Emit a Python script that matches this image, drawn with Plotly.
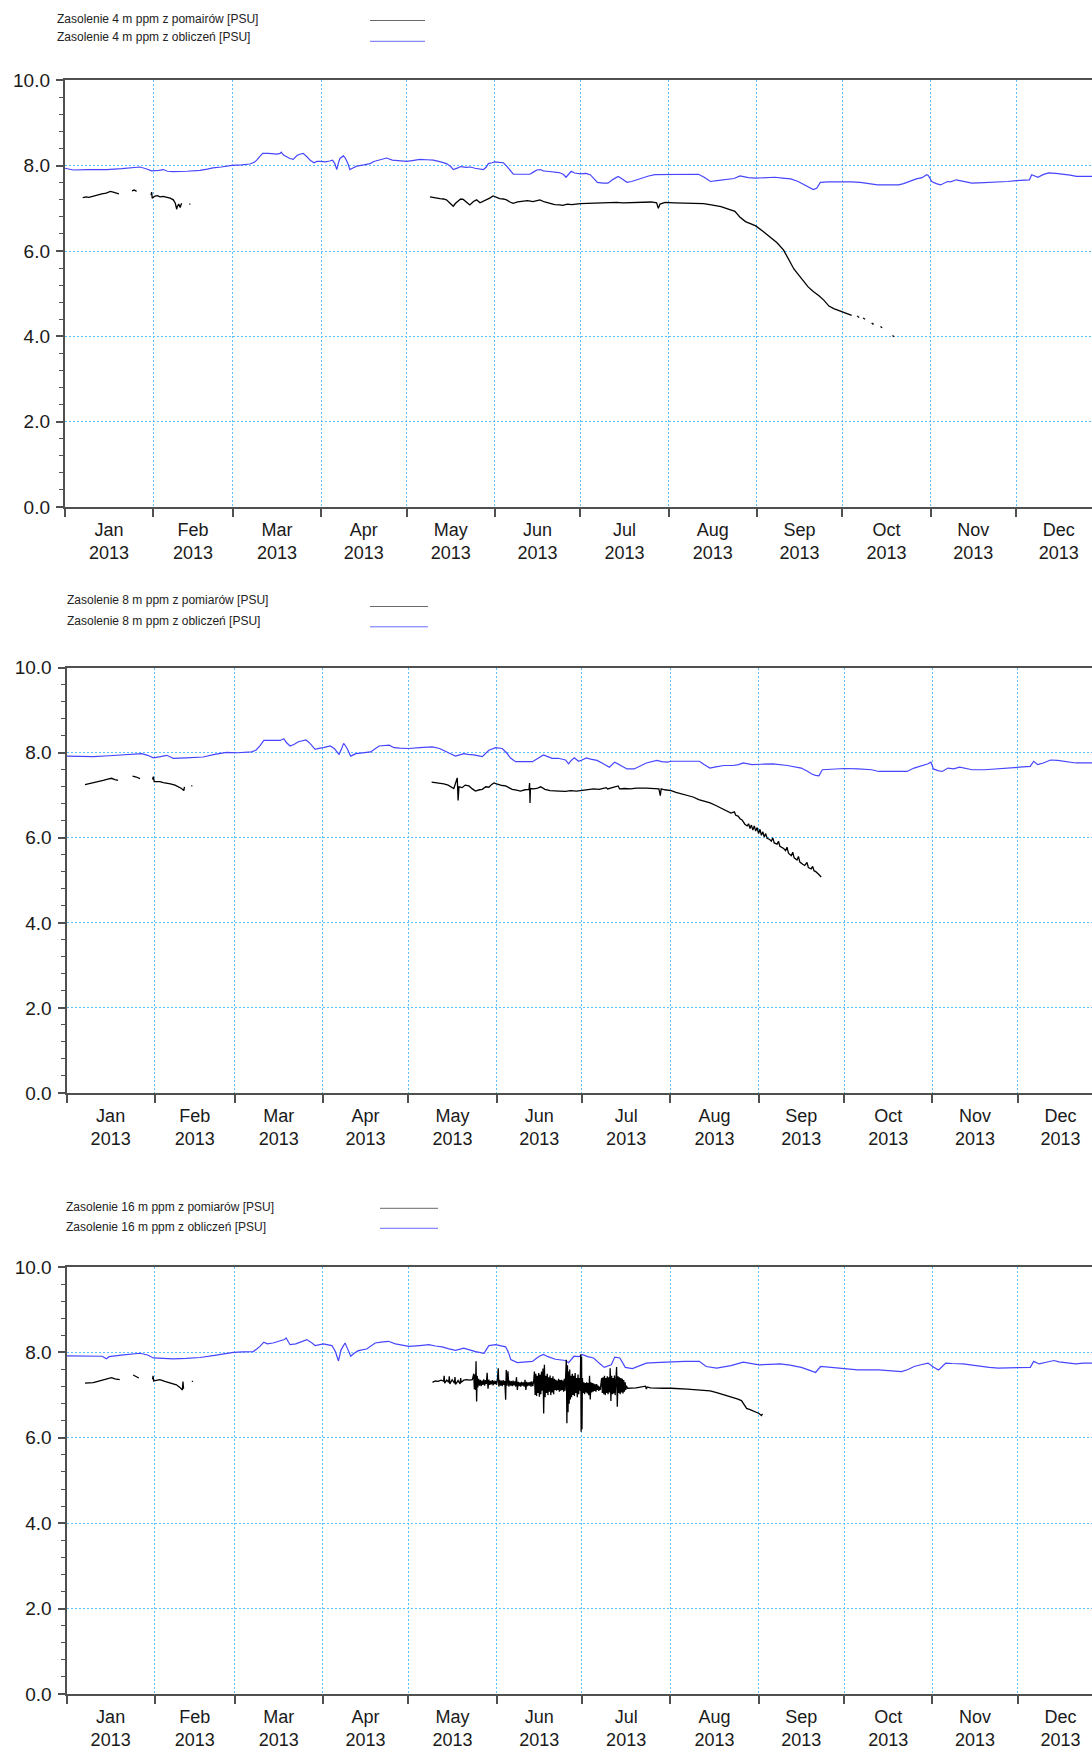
import pandas as pd
import plotly.graph_objects as go

BASE = pd.Timestamp("2013-01-01")

# (day of year offset, salinity PSU); (None, None) breaks the line
meas_4m = [
    (6.3, 7.25), (7.5, 7.27), (8.5, 7.26), (10, 7.29), (11.5, 7.31), (13, 7.34), (14.5, 7.36),
    (16, 7.40), (17, 7.38), (17.8, 7.37), (19, 7.34), (None, None),
    (23.6, 7.41), (24.4, 7.43), (25.2, 7.40), (None, None),
    (30.3, 7.31), (30.5, 7.38), (30.7, 7.24), (31.7, 7.29), (32.5, 7.30), (33.5, 7.27), (34.5, 7.28),
    (35.8, 7.26), (37, 7.24), (38.1, 7.20), (38.8, 7.12), (39.3, 6.98), (39.5, 7.04), (40, 7.10),
    (40.5, 7.02), (41, 7.12), (None, None), (43.7, 7.10), (44.1, 7.10), (None, None),
    (128.2, 7.27), (129.5, 7.25), (131.7, 7.23), (133, 7.22), (134, 7.20), (135, 7.14), (136.4, 7.05),
    (137.2, 7.12), (138.1, 7.16), (139, 7.22), (139.9, 7.21), (141, 7.15), (142.2, 7.08), (143.5, 7.16),
    (144.6, 7.20), (145.8, 7.13), (146.9, 7.16), (148, 7.20), (149.2, 7.24), (150.4, 7.29), (151.5, 7.26),
    (152.7, 7.23), (154, 7.22), (155.1, 7.20), (156.3, 7.15), (157.4, 7.12), (159, 7.15), (160.9, 7.16),
    (162.5, 7.18), (164.4, 7.16), (166.8, 7.20), (168.5, 7.15), (170.3, 7.12), (172, 7.09), (173.8, 7.08),
    (174.8, 7.07), (176.5, 7.10), (178, 7.09), (181, 7.11), (185, 7.12), (189, 7.12), (193.7, 7.14),
    (196, 7.13), (200, 7.14), (203, 7.15), (206, 7.15), (207.8, 7.13), (208.4, 7.00), (209, 7.10),
    (210.8, 7.14), (214, 7.13), (218.2, 7.12), (221, 7.11), (224.3, 7.11), (227, 7.08), (230.4, 7.04),
    (233, 6.98), (235.3, 6.93), (237, 6.80), (239, 6.69), (240.5, 6.65), (242.6, 6.59), (245, 6.47),
    (247.5, 6.34), (250, 6.20), (252.4, 6.02), (253.5, 5.88), (254.9, 5.71), (256, 5.58), (257.3, 5.47),
    (259, 5.32), (261, 5.16), (262.8, 5.05), (264.7, 4.96), (266.5, 4.85), (268.3, 4.71), (270, 4.65),
    (272, 4.60), (274, 4.55), (276.3, 4.49), (None, None),
    (278.2, 4.48), (278.9, 4.44), (None, None), (280.3, 4.43), (281, 4.40), (None, None),
    (283.3, 4.31), (284, 4.28), (None, None), (286.4, 4.23), (287, 4.20), (None, None),
    (290.6, 4.02), (291.2, 3.99),
]

calc_4m = [
    (0, 7.94), (3, 7.90), (8, 7.91), (14.7, 7.91), (20, 7.93), (26.4, 7.97), (28.5, 7.93), (30.5, 7.88),
    (33, 7.89), (34.6, 7.91), (36, 7.87), (38, 7.86), (43, 7.87), (47.5, 7.89), (50, 7.92), (52, 7.95),
    (55, 7.97), (58.6, 8.01), (62, 8.02), (65, 8.04), (66.5, 8.08), (67.4, 8.13), (68.5, 8.22), (69.5, 8.29),
    (71.5, 8.29), (73.2, 8.28), (74.5, 8.27), (75.6, 8.29), (76, 8.32), (76.8, 8.25), (77.9, 8.20),
    (79, 8.17), (80.2, 8.15), (81.5, 8.24), (82.5, 8.27), (83.7, 8.29), (85, 8.21), (86.3, 8.12),
    (87.5, 8.07), (88.5, 8.10), (89.6, 8.10), (91.5, 8.09), (93, 8.11), (94, 8.13), (94.8, 8.05),
    (95.5, 7.91), (96, 8.05), (96.6, 8.17), (97.8, 8.23), (98.5, 8.18), (99.4, 8.05), (100.1, 7.91),
    (101, 7.94), (102.5, 7.99), (105, 8.02), (107.2, 8.05), (108.5, 8.10), (111, 8.14), (113, 8.18),
    (115, 8.13), (118, 8.11), (120, 8.10), (122, 8.12), (124.7, 8.15), (127, 8.14), (129.4, 8.13),
    (132, 8.09), (134, 8.05), (135.5, 7.98), (136.4, 7.91), (138, 7.95), (139, 7.98), (141, 7.96),
    (142.5, 7.97), (144, 7.94), (147, 7.91), (148, 7.97), (148.7, 8.05), (150, 8.07), (151, 8.09),
    (152.5, 8.08), (154, 8.07), (155.3, 7.98), (156.3, 7.90), (157.5, 7.80), (160, 7.80), (163.3, 7.80),
    (164.5, 7.85), (165.7, 7.90), (167, 7.91), (168, 7.88), (169.2, 7.87), (171, 7.85), (173.5, 7.84),
    (175, 7.80), (176, 7.73), (177.8, 7.87), (179, 7.83), (181, 7.81), (183, 7.82), (184.5, 7.79),
    (186, 7.68), (187, 7.61), (189, 7.59), (190.7, 7.59), (192.5, 7.68), (194.3, 7.75), (195.5, 7.70),
    (197.4, 7.61), (199, 7.63), (202.3, 7.71), (205, 7.76), (207.2, 7.79), (212, 7.79), (217, 7.79),
    (222.5, 7.80), (224.5, 7.73), (226.7, 7.63), (229, 7.65), (232.9, 7.69), (235, 7.70), (237.1, 7.76),
    (240, 7.72), (242.6, 7.71), (246, 7.72), (249.4, 7.73), (252, 7.71), (254.9, 7.69), (257.5, 7.63),
    (259.8, 7.55), (261.5, 7.48), (262.8, 7.44), (264, 7.47), (265.3, 7.61), (268, 7.62), (273.2, 7.63),
    (276, 7.62), (279.3, 7.61), (282, 7.58), (285.4, 7.55), (289, 7.55), (292.8, 7.55), (294.5, 7.58),
    (296.5, 7.63), (299, 7.69), (301, 7.72), (302.6, 7.79), (303.2, 7.77), (304.4, 7.63), (306, 7.58),
    (307.5, 7.55), (309.9, 7.63), (311, 7.62), (313, 7.67), (315, 7.64), (318.5, 7.59), (321, 7.60),
    (324, 7.61), (328.3, 7.61), (331, 7.63), (334, 7.65), (336, 7.66), (338.7, 7.67), (339.5, 7.79),
    (340.5, 7.76), (341.7, 7.73), (343.5, 7.79), (345.4, 7.83), (348, 7.82), (350, 7.81), (351.5, 7.80),
    (353, 7.78), (355.2, 7.75), (358, 7.75), (361, 7.75),
]

meas_8m = [
    (6.5, 7.25), (8, 7.27), (9.4, 7.29), (11, 7.31), (12.9, 7.35), (14.5, 7.38), (15.8, 7.40),
    (17, 7.37), (18.1, 7.35), (None, None),
    (23.2, 7.45), (24.5, 7.43), (25.8, 7.39), (None, None),
    (30.2, 7.37), (30.5, 7.44), (30.8, 7.32), (32.8, 7.32), (34, 7.30), (35.2, 7.29), (36.5, 7.27),
    (38.1, 7.24), (39.5, 7.19), (40.4, 7.16), (41.2, 7.11), (41.4, 7.20), (None, None),
    (43.8, 7.22), (44.2, 7.22), (None, None),
    (128.2, 7.31), (129.5, 7.30), (131.1, 7.29), (132.5, 7.27), (134, 7.24), (135, 7.20), (136, 7.16),
    (137.2, 7.41), (137.5, 6.88), (137.8, 7.20), (138.9, 7.18), (140, 7.24), (141.3, 7.22), (142.5, 7.15),
    (143.6, 7.10), (145, 7.13), (146, 7.14), (147.2, 7.20), (148.3, 7.19), (149.2, 7.25), (150.1, 7.29),
    (151, 7.27), (151.8, 7.25), (153, 7.23), (154.2, 7.22), (155.3, 7.18), (156.5, 7.14), (158, 7.12),
    (159.4, 7.10), (161, 7.13), (162.4, 7.14), (162.6, 7.29), (162.75, 6.82), (162.9, 7.16), (164, 7.15),
    (165.1, 7.16), (166.5, 7.20), (168, 7.14), (169.8, 7.11), (171.5, 7.11), (173, 7.10), (175.2, 7.09),
    (177, 7.11), (179.1, 7.10), (181, 7.12), (183, 7.13), (185.1, 7.15), (187, 7.14), (189.5, 7.18),
    (190, 7.15), (192, 7.19), (193.7, 7.22), (194.2, 7.15), (196, 7.16), (198, 7.15), (200, 7.17),
    (203.6, 7.17), (206, 7.16), (208, 7.15), (208.5, 6.99), (208.8, 7.15), (210, 7.13), (212.3, 7.11),
    (214, 7.07), (216, 7.03), (218.5, 6.99), (220, 6.96), (222, 6.90), (224.6, 6.85), (226, 6.82),
    (228, 6.76), (230.8, 6.67), (232, 6.63), (233.3, 6.58), (234.5, 6.61), (235, 6.53), (235.8, 6.51),
    (236.5, 6.45), (237.2, 6.42), (238.2, 6.32), (239, 6.28), (239.5, 6.33), (240, 6.22), (240.5, 6.30),
    (241, 6.18), (241.5, 6.28), (242, 6.16), (242.5, 6.24), (243, 6.10), (243.5, 6.20), (244, 6.06),
    (244.5, 6.14), (245, 6.02), (245.5, 6.10), (246, 5.99), (246.9, 5.96), (247.5, 5.92), (248, 6.00),
    (248.5, 5.88), (249.5, 5.85), (250, 5.92), (250.5, 5.80), (251.8, 5.75), (252.5, 5.70), (253, 5.78),
    (253.5, 5.64), (254.5, 5.58), (255, 5.66), (255.5, 5.53), (256.5, 5.48), (257, 5.56), (257.5, 5.43),
    (258.5, 5.38), (259.2, 5.35), (260, 5.42), (260.5, 5.30), (261.5, 5.27), (262, 5.33), (262.5, 5.22),
    (263, 5.21), (264, 5.15), (264.8, 5.09), (265, 5.08),
]

calc_8m = [
    (0, 7.92), (5, 7.91), (9.4, 7.91), (15, 7.93), (21.1, 7.96), (24, 7.97), (26.4, 7.98), (28.5, 7.94),
    (30.5, 7.88), (33, 7.91), (35.2, 7.94), (36.5, 7.90), (37.5, 7.87), (42, 7.88), (48, 7.90), (52, 7.96),
    (56.2, 8.01), (60, 8.00), (65, 8.02), (66.5, 8.06), (67.9, 8.16), (69.3, 8.29), (72, 8.29), (75, 8.29),
    (76.3, 8.33), (77.2, 8.24), (78.5, 8.16), (80, 8.20), (81.4, 8.26), (84.1, 8.30), (85.5, 8.22),
    (87.3, 8.08), (89, 8.11), (90.2, 8.12), (92.6, 8.16), (94, 8.10), (95, 8.02), (95.7, 7.96), (96.5, 8.08),
    (97.3, 8.22), (98.3, 8.13), (99.8, 7.92), (101.6, 7.98), (104, 8.00), (106.8, 8.02), (108.5, 8.10),
    (109.8, 8.16), (113.3, 8.18), (115, 8.12), (117, 8.11), (120.2, 8.10), (124, 8.12), (128.4, 8.14),
    (131, 8.10), (133.1, 8.04), (135, 7.97), (136.6, 7.92), (139.5, 7.98), (141, 7.96), (143, 7.95),
    (146, 7.91), (147.2, 7.98), (148.3, 8.06), (150.7, 8.12), (153, 8.10), (154.5, 8.00), (156, 7.87),
    (157.7, 7.79), (160, 7.79), (163.6, 7.79), (165, 7.85), (166.5, 7.92), (167.5, 7.95), (168.5, 7.92),
    (170.5, 7.87), (172.7, 7.87), (175.2, 7.83), (176.3, 7.74), (177.2, 7.82), (178.3, 7.88), (179.8, 7.80),
    (181, 7.83), (182.6, 7.88), (184, 7.85), (186.3, 7.82), (188.5, 7.74), (190.6, 7.66), (192.5, 7.78),
    (193.5, 7.74), (195, 7.70), (196.8, 7.62), (199.3, 7.62), (201.5, 7.70), (203.6, 7.76), (207.3, 7.82),
    (209, 7.79), (211, 7.78), (212.3, 7.80), (217, 7.80), (222.2, 7.80), (224, 7.72), (225.9, 7.64),
    (228, 7.67), (230.8, 7.70), (234, 7.70), (236, 7.72), (237.6, 7.76), (240.7, 7.72), (244, 7.73),
    (248.1, 7.74), (253.1, 7.70), (256, 7.67), (258, 7.64), (260, 7.57), (261.7, 7.50), (263, 7.47),
    (264.2, 7.46), (265.4, 7.60), (269, 7.62), (273.1, 7.63), (278, 7.62), (282.7, 7.60), (285.2, 7.56),
    (290, 7.56), (295.1, 7.56), (297.6, 7.64), (300, 7.69), (302.5, 7.74), (303.5, 7.78), (304.4, 7.62),
    (306, 7.58), (307.5, 7.56), (309.5, 7.64), (311.5, 7.62), (313.6, 7.66), (316, 7.62), (318, 7.60),
    (322.3, 7.60), (327.2, 7.62), (331, 7.64), (334, 7.66), (338.4, 7.68), (339.6, 7.80), (341, 7.72),
    (343, 7.76), (345.5, 7.83), (348, 7.82), (350.7, 7.80), (352.5, 7.78), (354.4, 7.76), (357, 7.76),
    (361, 7.76),
]

meas_16m = [
    (6.5, 7.28), (8, 7.29), (9.4, 7.29), (11, 7.32), (12.9, 7.36), (14.5, 7.39), (15.8, 7.41),
    (17, 7.38), (18.7, 7.36), (None, None),
    (23.4, 7.47), (24.4, 7.43), (25.4, 7.40), (None, None),
    (30.2, 7.37), (30.4, 7.45), (30.6, 7.33), (32.8, 7.36), (34.5, 7.32), (36.3, 7.28), (37.5, 7.26),
    (38.6, 7.24), (39.8, 7.18), (40.7, 7.12), (40.9, 7.32), (41.1, 7.15), (None, None),
    (44.0, 7.32), (44.4, 7.32), (None, None),
    # quiet start of the May record
    (128.5, 7.30), (129.5, 7.33), (130.5, 7.32), (131.5, 7.35), (132.4, 7.33), (132.6, 7.45),
    (132.8, 7.28), (133.5, 7.35), (134.2, 7.30), (134.4, 7.44), (134.6, 7.26), (135.4, 7.36),
    (136.2, 7.28), (136.4, 7.42), (136.6, 7.25), (137.5, 7.34), (138.2, 7.26), (138.4, 7.40),
    (138.6, 7.30), (139.5, 7.35), (140.5, 7.36), (141.5, 7.35), (142.5, 7.36),
    # noisy period, late May to mid July
    (143.0, 7.50), (143.2, 7.14), (143.4, 7.48), (143.6, 7.12), (143.8, 7.79), (144.0, 6.85),
    (144.2, 7.45), (144.4, 7.18), (144.7, 7.38), (145.0, 7.22), (145.3, 7.36), (145.6, 7.21),
    (145.9, 7.34), (146.2, 7.24), (146.5, 7.37), (146.8, 7.22), (147.1, 7.35), (147.4, 7.26),
    (147.7, 7.52), (148.0, 7.15), (148.3, 7.36), (148.6, 7.24), (148.9, 7.33), (149.2, 7.25),
    (149.5, 7.35), (149.8, 7.23), (150.1, 7.34), (150.4, 7.26), (150.7, 7.33), (151.0, 7.24),
    (151.3, 7.35), (151.6, 7.63), (151.8, 7.20), (152.1, 7.36), (152.4, 7.22), (152.7, 7.34),
    (153.0, 7.21), (153.3, 7.35), (153.6, 7.24), (153.9, 7.33), (154.2, 6.89), (154.4, 7.59),
    (154.7, 7.22), (155.0, 7.56), (155.3, 7.20), (155.6, 7.34), (155.9, 7.22), (156.2, 7.33),
    (156.5, 7.21), (156.8, 7.34), (157.1, 7.23), (157.4, 7.32), (157.7, 7.20), (158.0, 7.42),
    (158.3, 7.12), (158.6, 7.31), (158.9, 7.21), (159.2, 7.30), (159.5, 7.20), (159.8, 7.31),
    (160.1, 7.22), (160.4, 7.30), (160.7, 7.20), (161.0, 7.36), (161.3, 7.12), (161.6, 7.31),
    (161.9, 7.21), (162.2, 7.30), (162.5, 7.22), (162.8, 7.31), (163.1, 7.20), (163.4, 7.32),
    (163.7, 7.21), (164.0, 7.30), (164.3, 7.55), (164.55, 7.00), (164.8, 7.50), (165.05, 6.98),
    (165.3, 7.45), (165.55, 7.05), (165.8, 7.52), (166.05, 6.96), (166.3, 7.48), (166.55, 7.02),
    (166.8, 7.55), (167.05, 7.10), (167.3, 7.62), (167.55, 6.57), (167.8, 7.71), (168.05, 6.95),
    (168.3, 7.45), (168.55, 7.05), (168.8, 7.50), (169.05, 7.00), (169.3, 7.42), (169.55, 7.08),
    (169.8, 7.46), (170.05, 7.00), (170.3, 7.40), (170.55, 7.06), (170.8, 7.44), (171.05, 7.02),
    (171.3, 7.38), (171.55, 7.12), (171.8, 7.36), (172.05, 7.10), (172.3, 7.34), (172.55, 7.12),
    (172.8, 7.38), (173.05, 7.08), (173.3, 7.35), (173.55, 7.10), (173.8, 7.36), (174.05, 7.12),
    (174.3, 7.34), (174.55, 7.08), (174.8, 7.38), (175.05, 7.10), (175.3, 7.36), (175.5, 7.83),
    (175.7, 6.34), (175.9, 7.70), (176.1, 6.60), (176.3, 7.55), (176.5, 6.80), (176.7, 7.60),
    (176.9, 6.90), (177.1, 7.45), (177.35, 6.95), (177.6, 7.50), (177.85, 7.00), (178.1, 7.45),
    (178.35, 6.98), (178.6, 7.52), (178.85, 7.05), (179.1, 7.40), (179.35, 6.95), (179.6, 7.48),
    (179.85, 7.02), (180.1, 7.40), (180.35, 7.10), (180.55, 7.95), (180.7, 6.14), (180.85, 7.90),
    (181.0, 6.20), (181.15, 7.40), (181.4, 7.05), (181.65, 7.30), (181.9, 7.02), (182.15, 7.28),
    (182.4, 7.06), (182.65, 7.30), (182.9, 7.04), (183.15, 7.28), (183.4, 7.00), (183.65, 7.45),
    (183.9, 6.90), (184.15, 7.30), (184.4, 7.06), (184.65, 7.28), (184.9, 7.08), (185.15, 7.27),
    (185.4, 7.10), (185.65, 7.25), (185.9, 7.08), (186.15, 7.26), (186.4, 7.12), (186.65, 7.22),
    (186.9, 7.10), (187.15, 7.20), (187.4, 7.12), (187.65, 7.22), (187.9, 7.40), (188.15, 7.05),
    (188.4, 7.42), (188.65, 7.02), (188.9, 7.45), (189.15, 7.00), (189.4, 7.40), (189.65, 7.05),
    (189.9, 7.44), (190.15, 7.02), (190.4, 7.42), (190.65, 7.06), (190.9, 7.63), (191.15, 6.86),
    (191.4, 7.45), (191.65, 7.02), (191.9, 7.40), (192.15, 7.04), (192.4, 7.46), (192.65, 7.00),
    (192.9, 7.42), (193.15, 7.66), (193.4, 6.73), (193.65, 7.44), (193.9, 7.05), (194.15, 7.42),
    (194.4, 7.02), (194.65, 7.40), (194.9, 7.06), (195.15, 7.38), (195.4, 7.04), (195.65, 7.35),
    (195.9, 7.08), (196.15, 7.30), (196.4, 7.12), (196.6, 7.22),
    # settled record and late-summer decline
    (197, 7.16), (200, 7.17), (203.3, 7.21), (203.6, 7.14), (203.9, 7.19), (205, 7.17),
    (209.8, 7.16), (212.3, 7.16), (218, 7.14), (222.2, 7.12), (226, 7.10), (228.3, 7.06),
    (231, 7.01), (233.3, 6.96), (235.5, 6.91), (237, 6.87), (238, 6.78), (238.8, 6.69),
    (240, 6.66), (241.5, 6.62), (243.2, 6.57), (244, 6.52), (244.4, 6.56),
]

calc_16m = [
    (0, 7.92), (5, 7.91), (9.4, 7.91), (12.5, 7.91), (14, 7.85), (15, 7.90), (20, 7.94), (25.8, 7.98),
    (28.5, 7.94), (30.5, 7.87), (34, 7.86), (37.5, 7.85), (42, 7.86), (46.9, 7.88), (52, 7.93),
    (58.6, 8.00), (62, 8.01), (65.6, 8.02), (66.8, 8.08), (67.9, 8.14), (69.3, 8.24), (70.5, 8.20),
    (72.5, 8.22), (75, 8.26), (76.5, 8.30), (77.1, 8.34), (78.5, 8.18), (80.5, 8.20), (82, 8.24),
    (84.4, 8.30), (85.8, 8.24), (87.3, 8.16), (90.2, 8.20), (93.2, 8.16), (94.4, 8.02), (95.5, 7.80),
    (96.4, 8.06), (97.8, 8.22), (98.6, 8.10), (99.8, 7.91), (101, 7.98), (102.5, 8.04), (105.4, 8.08),
    (107, 8.16), (108.4, 8.22), (110.5, 8.24), (113, 8.26), (115.5, 8.20), (118, 8.16), (120.2, 8.14),
    (124, 8.16), (127.2, 8.18), (129.5, 8.15), (131.9, 8.13), (134, 8.09), (136.6, 8.05), (139.5, 8.10),
    (141.5, 8.06), (143.6, 8.02), (146.6, 7.98), (147.5, 8.06), (148.3, 8.16), (150.7, 8.18),
    (154.2, 8.13), (155.2, 8.00), (156, 7.83), (158.3, 7.76), (161, 7.77), (163.6, 7.79), (164.8, 7.85),
    (166, 7.91), (167.5, 7.95), (169, 7.90), (171.7, 7.84), (173.5, 7.83), (175.2, 7.81), (176.3, 7.76),
    (177.3, 7.85), (178.2, 7.91), (179.9, 7.90), (181, 7.95), (183, 7.90), (185.1, 7.87), (187, 7.75),
    (188.8, 7.65), (191.3, 7.71), (192.5, 7.89), (194.3, 7.87), (195.3, 7.75), (196.2, 7.65),
    (198.7, 7.62), (201, 7.68), (203.6, 7.75), (206.5, 7.76), (209.8, 7.77), (212.3, 7.79), (217, 7.79),
    (222.2, 7.79), (224.6, 7.67), (228.3, 7.63), (231, 7.66), (233.3, 7.69), (237.6, 7.77), (240, 7.74),
    (243.2, 7.71), (247, 7.72), (250.6, 7.73), (254, 7.70), (258, 7.65), (261, 7.58), (263, 7.53),
    (264.8, 7.67), (268, 7.65), (271.6, 7.63), (275, 7.60), (277.8, 7.59), (285.2, 7.59), (290, 7.57),
    (293.2, 7.55), (295.5, 7.60), (297.6, 7.67), (300, 7.71), (302.5, 7.75), (304.5, 7.65), (306.2, 7.59),
    (307.5, 7.67), (308.7, 7.75), (311, 7.74), (314.9, 7.73), (318, 7.70), (321, 7.67), (324, 7.65),
    (327.2, 7.63), (331, 7.64), (334, 7.65), (338.4, 7.65), (339.6, 7.79), (341.5, 7.73), (344, 7.77),
    (346.7, 7.81), (348.5, 7.78), (350.7, 7.76), (353, 7.74), (354.4, 7.73), (357, 7.75), (361, 7.75),
]

legend_meas = [
    "Zasolenie 4 m ppm z pomairów [PSU]",
    "Zasolenie 8 m ppm z pomiarów [PSU]",
    "Zasolenie 16 m ppm z pomiarów [PSU]",
]
legend_calc = [
    "Zasolenie 4 m ppm z obliczeń [PSU]",
    "Zasolenie 8 m ppm z obliczeń [PSU]",
    "Zasolenie 16 m ppm z obliczeń [PSU]",
]
y_ticks = [0, 2, 4, 6, 8, 10]

W, H = 1092, 1751
MEAS_COLOR = "#000000"
CALC_COLOR = "#4646ff"
GRID_COLOR = "#5cbfff"
AXIS_COLOR = "#505050"
FONT = "Liberation Sans, Arial, sans-serif"

# panel geometry in pixels: left edge of plot, top, bottom, legend placement
panels = [
    dict(meas=meas_4m, calc=calc_4m, left=64.8, top=80.4, bottom=507.0,
         txt_x=55, txt_y=(19.5, 37.0), line_x=(370, 425), line_y=(20.5, 41.3)),
    dict(meas=meas_8m, calc=calc_8m, left=66.5, top=667.7, bottom=1093.0,
         txt_x=64.5, txt_y=(600.5, 620.5), line_x=(370, 428), line_y=(606.5, 626.8)),
    dict(meas=meas_16m, calc=calc_16m, left=66.5, top=1267.0, bottom=1694.0,
         txt_x=63.7, txt_y=(1207.0, 1226.5), line_x=(380, 438), line_y=(1208.3, 1228.3)),
]
PX_PER_DAY = 2.848


def to_xy(pairs):
    xs = [None if d is None else BASE + pd.Timedelta(days=d) for d, _ in pairs]
    ys = [v for _, v in pairs]
    return xs, ys


fig = go.Figure()
annotations = []
shapes = []

for i, p in enumerate(panels, start=1):
    suffix = "" if i == 1 else str(i)
    xa, ya = "x" + suffix, "y" + suffix

    cx, cy = to_xy(p["calc"])
    fig.add_trace(go.Scatter(x=cx, y=cy, mode="lines", xaxis=xa, yaxis=ya,
                             line=dict(color=CALC_COLOR, width=1.2), showlegend=False,
                             hoverinfo="skip"))
    mx, my = to_xy(p["meas"])
    fig.add_trace(go.Scatter(x=mx, y=my, mode="lines", xaxis=xa, yaxis=ya,
                             line=dict(color=MEAS_COLOR, width=1.3), showlegend=False,
                             connectgaps=False, hoverinfo="skip"))

    end_days = (W - p["left"]) / PX_PER_DAY
    x_end = BASE + pd.Timedelta(days=end_days)

    fig.layout["xaxis" + suffix] = dict(
        domain=[p["left"] / W, 1.0], anchor=ya, type="date",
        range=[BASE, x_end], tick0="2013-01-01", dtick="M1",
        tickformat="%b<br>%Y", ticklabelmode="period",
        ticks="outside", ticklen=8, tickwidth=1.5, tickcolor=AXIS_COLOR,
        ticklabelstandoff=-3,
        showline=True, linecolor=AXIS_COLOR, linewidth=2, mirror=True,
        showgrid=True, gridcolor=GRID_COLOR, gridwidth=1, griddash="2px,2px",
        tickfont=dict(family=FONT, size=18, color="#1a1a1a"),
        zeroline=False, fixedrange=True,
    )
    fig.layout["yaxis" + suffix] = dict(
        domain=[1 - p["bottom"] / H, 1 - p["top"] / H], anchor=xa,
        range=[0, 10], tickvals=y_ticks, tickformat=".1f",
        ticks="outside", ticklen=7, tickwidth=1.5, tickcolor=AXIS_COLOR,
        ticklabelstandoff=2,
        minor=dict(dtick=0.4, tick0=0, ticks="outside", ticklen=4, tickwidth=1,
                   tickcolor=AXIS_COLOR, showgrid=False),
        showline=True, linecolor=AXIS_COLOR, linewidth=2, mirror=False,
        showgrid=True, gridcolor=GRID_COLOR, gridwidth=1, griddash="2px,2px",
        tickfont=dict(family=FONT, size=19, color="#1a1a1a"),
        zeroline=False, fixedrange=True,
    )

    # legend rows: label on the left, line sample on the right
    for label, ty, ly, col in (
        (legend_meas[i - 1], p["txt_y"][0], p["line_y"][0], "#6a6a6a"),
        (legend_calc[i - 1], p["txt_y"][1], p["line_y"][1], "#6a6aff"),
    ):
        annotations.append(dict(
            text=label, x=p["txt_x"] / W, y=1 - ty / H, xref="paper", yref="paper",
            xanchor="left", yanchor="middle", showarrow=False,
            font=dict(family=FONT, size=12, color="#222222"),
        ))
        shapes.append(dict(
            type="line", xref="paper", yref="paper",
            x0=p["line_x"][0] / W, x1=p["line_x"][1] / W,
            y0=1 - ly / H, y1=1 - ly / H,
            line=dict(color=col, width=1),
        ))

fig.update_layout(
    width=W, height=H,
    margin=dict(l=0, r=0, t=0, b=0, autoexpand=False),
    paper_bgcolor="white", plot_bgcolor="white",
    annotations=annotations, shapes=shapes,
    showlegend=False,
)

fig.write_html("out.html")
